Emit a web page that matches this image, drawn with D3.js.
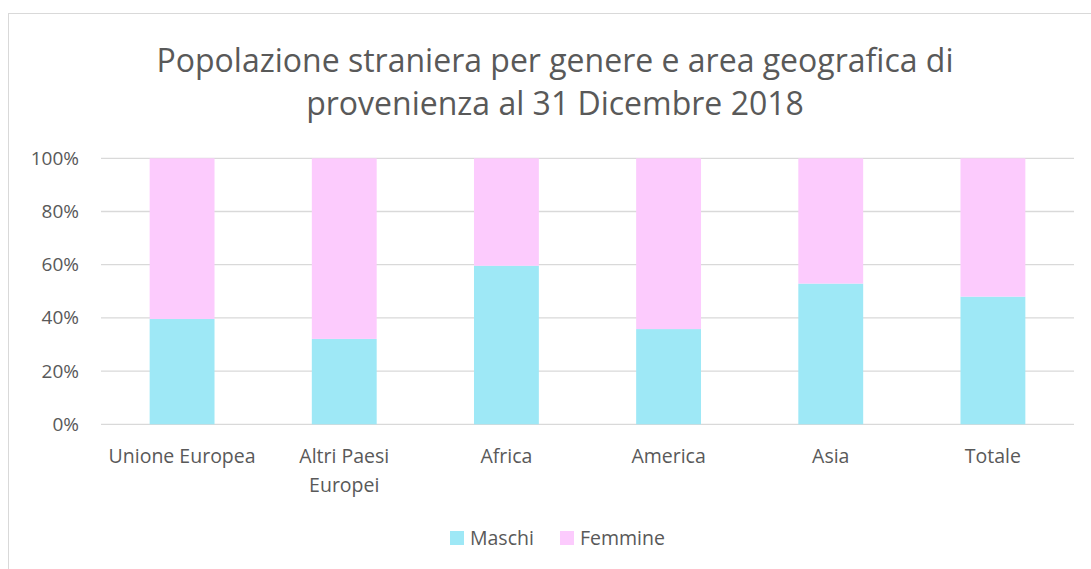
<!DOCTYPE html>
<html>
<head>
<meta charset="utf-8">
<script src="https://cdn.jsdelivr.net/npm/d3@7"></script>
<style>
  body { margin: 0; background: #fff; }
  text { font-family: "Open Sans", sans-serif; fill: #595959; }
</style>
</head>
<body>
<svg id="chart"></svg>
<script>
var categories = ["Unione Europea", "Altri Paesi|Europei", "Africa", "America", "Asia", "Totale"];
var maschi = [39.6, 32.1, 59.6, 35.8, 52.9, 48.0];
var femmine = maschi.map(function(v){ return 100 - v; });
var yTicks = [0, 20, 40, 60, 80, 100];
var seriesNames = ["Maschi", "Femmine"];
var seriesColors = ["#9ee8f6", "#fccbfd"];

var width = 1091, height = 569;
var svg = d3.select("#chart").attr("width", width).attr("height", height);

// chart frame
svg.append("rect")
  .attr("x", 8.5).attr("y", 13.5)
  .attr("width", 1100).attr("height", 600)
  .style("fill", "none").style("stroke", "#d9d9d9");

// title
var title = svg.append("text")
  .attr("text-anchor", "middle")
  .style("font-size", "32px");
title.append("tspan").attr("x", 555).attr("y", 72).text("Popolazione straniera per genere e area geografica di");
title.append("tspan").attr("x", 555).attr("y", 115).text("provenienza al 31 Dicembre 2018");

var plotLeft = 101, plotRight = 1074, plotTop = 158.3, plotBottom = 424.3;

var x = d3.scaleBand()
  .domain(categories)
  .range([plotLeft, plotRight])
  .paddingInner(0.6)
  .paddingOuter(0.3);

var y = d3.scaleLinear().domain([0, 100]).range([plotBottom, plotTop]);

// gridlines
svg.append("g").selectAll("line")
  .data(yTicks).enter().append("line")
  .attr("x1", plotLeft).attr("x2", plotRight)
  .attr("y1", function(d){ return y(d); })
  .attr("y2", function(d){ return y(d); })
  .style("stroke", "#d9d9d9").style("stroke-width", 1.3);

// y axis labels
var yAxis = d3.axisLeft(y).tickValues(yTicks).tickSize(0).tickPadding(0)
  .tickFormat(function(d){ return d + "%"; });
var ya = svg.append("g").attr("transform", "translate(79,0)").call(yAxis);
ya.select(".domain").remove();
ya.selectAll("text").style("font-size", "19px").style("fill", "#595959")
  .style("font-family", "\"Open Sans\", sans-serif");

// stacked bars
var stackData = categories.map(function(c, i){ return {cat: c, Maschi: maschi[i], Femmine: femmine[i]}; });
var stack = d3.stack().keys(seriesNames)(stackData);

svg.append("g").selectAll("g")
  .data(stack).enter().append("g")
  .style("fill", function(d, i){ return seriesColors[i]; })
  .selectAll("rect")
  .data(function(d){ return d; }).enter().append("rect")
  .attr("x", function(d){ return x(d.data.cat); })
  .attr("width", x.bandwidth())
  .attr("y", function(d){ return y(d[1]); })
  .attr("height", function(d){ return y(d[0]) - y(d[1]); });

// category labels
var xl = svg.append("g").selectAll("text")
  .data(categories).enter().append("text")
  .attr("text-anchor", "middle")
  .style("font-size", "19.5px");
xl.each(function(d){
  var parts = d.split("|");
  var t = d3.select(this);
  parts.forEach(function(p, k){
    t.append("tspan")
      .attr("x", x(d) + x.bandwidth() / 2)
      .attr("y", 463 + k * 29)
      .text(p);
  });
});

// legend
var legendX = [450, 560];
var legend = svg.append("g").selectAll("g")
  .data(seriesNames).enter().append("g")
  .attr("transform", function(d, i){ return "translate(" + legendX[i] + ",531)"; });
legend.append("rect")
  .attr("width", 14).attr("height", 14)
  .style("fill", function(d, i){ return seriesColors[i]; });
legend.append("text")
  .attr("x", 20).attr("y", 14)
  .style("font-size", "19.5px")
  .text(function(d){ return d; });
</script>
</body>
</html>
